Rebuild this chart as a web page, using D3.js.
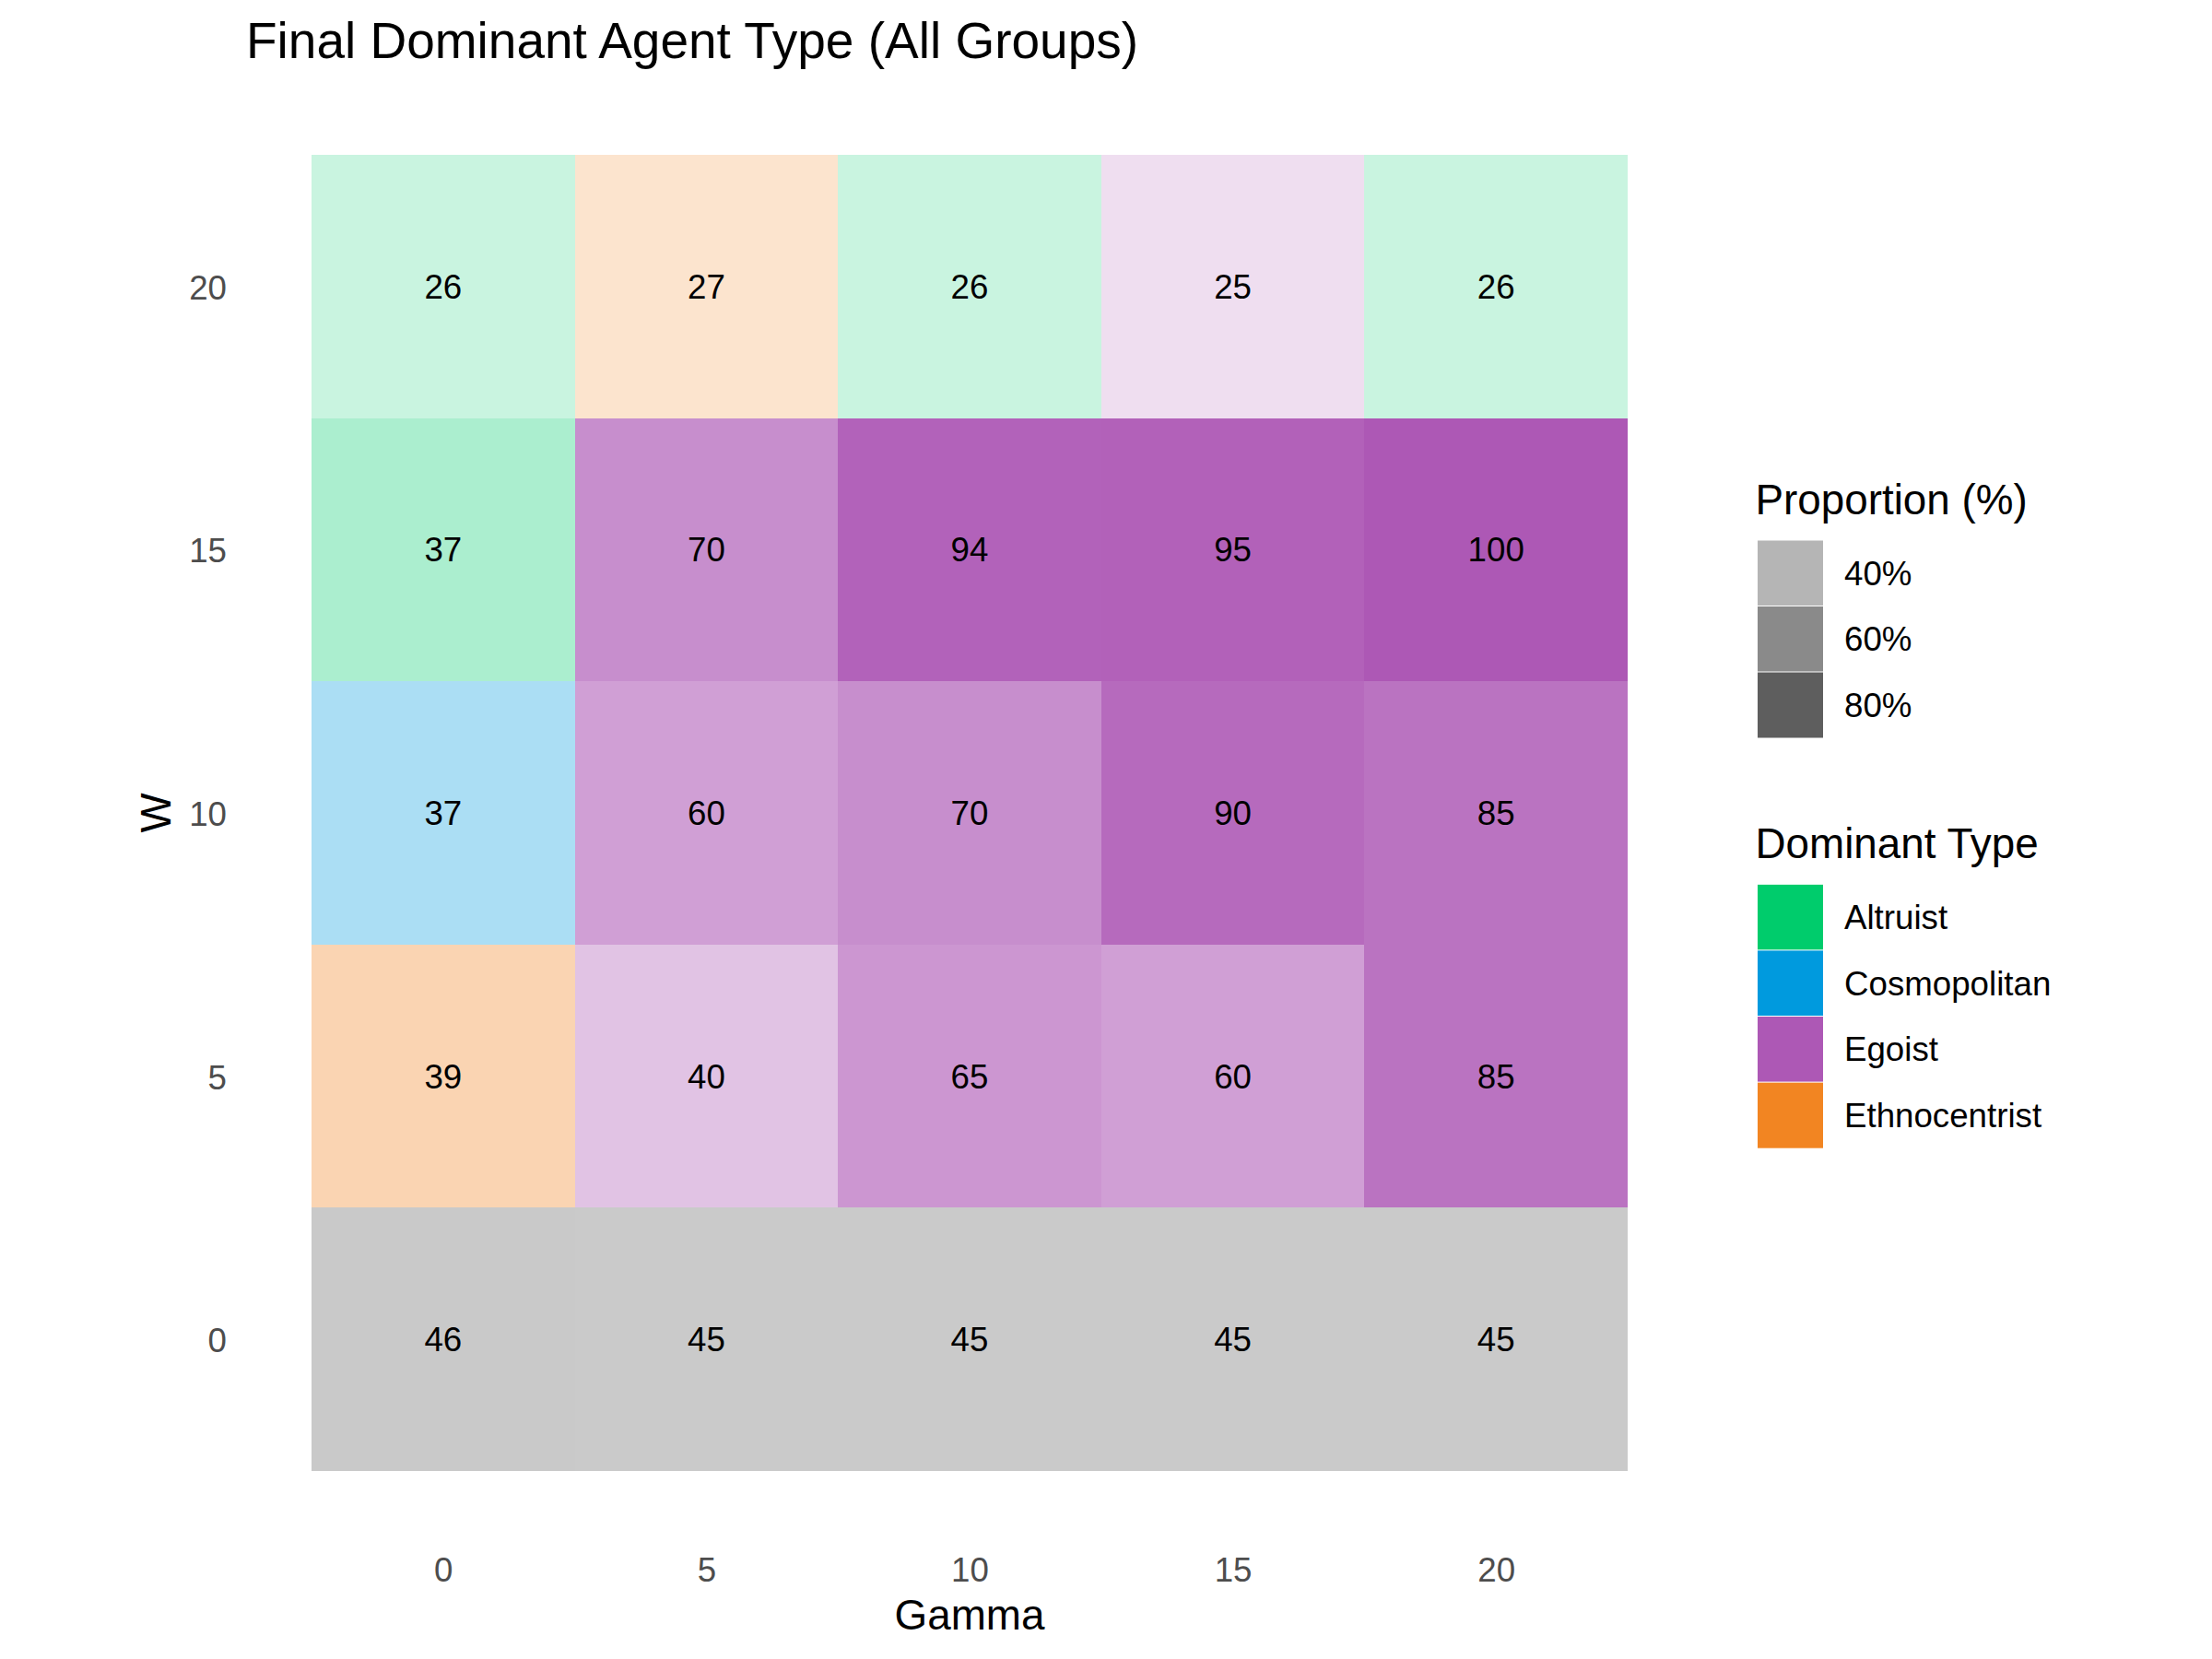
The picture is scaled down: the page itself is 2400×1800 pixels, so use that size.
<!DOCTYPE html>
<html>
<head>
<meta charset="utf-8">
<script src="https://cdn.jsdelivr.net/npm/d3@7"></script>
<style>
  html, body { margin: 0; padding: 0; background: #ffffff; }
  svg { display: block; font-family: "Liberation Sans", Arial, Helvetica, sans-serif; }
</style>
</head>
<body>
<script>
// ---- Data ----
const gammaValues = [0, 5, 10, 15, 20];
const wValues = [0, 5, 10, 15, 20];
const typeNames = ["Altruist", "Cosmopolitan", "Egoist", "Ethnocentrist"];
const typeColors = ["#00CC6C", "#009ADE", "#AD58B5", "#F28522"];
const alphaBreaks = [40, 60, 80];
const alphaBreakLabels = ["40%", "60%", "80%"];

// rows by W (gamma 0,5,10,15,20)
const propW0  = [46, 45, 45, 45, 45];
const typeW0  = [null, null, null, null, null];
const propW5  = [39, 40, 65, 60, 85];
const typeW5  = ["Ethnocentrist", "Egoist", "Egoist", "Egoist", "Egoist"];
const propW10 = [37, 60, 70, 90, 85];
const typeW10 = ["Cosmopolitan", "Egoist", "Egoist", "Egoist", "Egoist"];
const propW15 = [37, 70, 94, 95, 100];
const typeW15 = ["Altruist", "Egoist", "Egoist", "Egoist", "Egoist"];
const propW20 = [26, 27, 26, 25, 26];
const typeW20 = ["Altruist", "Ethnocentrist", "Altruist", "Egoist", "Altruist"];

const propRows = [propW0, propW5, propW10, propW15, propW20];
const typeRows = [typeW0, typeW5, typeW10, typeW15, typeW20];

const cells = [];
wValues.forEach((w, i) => {
  gammaValues.forEach((g, j) => {
    cells.push({ gamma: g, w: w, prop: propRows[i][j], type: typeRows[i][j] });
  });
});

// ---- Layout ----
const W = 2400, H = 1800;
const panel = { left: 266.6, right: 1837.4, top: 96.6, bottom: 1667.4 };

const svg = d3.select("body").append("svg")
  .attr("width", W).attr("height", H);

const x = d3.scaleLinear().domain([-3.75, 23.75]).range([panel.left, panel.right]);
const y = d3.scaleLinear().domain([-3.75, 23.75]).range([panel.bottom, panel.top]);
const fill = d3.scaleOrdinal().domain(typeNames).range(typeColors);
const alpha = d3.scaleLinear().domain([25, 100]).range([0.2, 1]);
const naFill = "#7F7F7F";
const tileSize = 5;

// tiles
svg.append("g").attr("shape-rendering", "crispEdges").selectAll("rect")
  .data(cells).join("rect")
  .attr("x", d => x(d.gamma - tileSize / 2))
  .attr("y", d => y(d.w + tileSize / 2))
  .attr("width", d => x(d.gamma + tileSize / 2) - x(d.gamma - tileSize / 2))
  .attr("height", d => y(d.w - tileSize / 2) - y(d.w + tileSize / 2))
  .attr("fill", d => d.type ? fill(d.type) : naFill)
  .attr("fill-opacity", d => alpha(d.prop));

// cell labels
svg.append("g").selectAll("text")
  .data(cells).join("text")
  .attr("x", d => x(d.gamma))
  .attr("y", d => y(d.w) + 13)
  .attr("text-anchor", "middle")
  .attr("font-size", 36.7)
  .attr("fill", "#000000")
  .text(d => d.prop);

// axes
const xAxis = d3.axisBottom(x).tickValues(gammaValues).tickSize(0).tickPadding(22.6);
const gx = svg.append("g").attr("transform", `translate(0,${panel.bottom})`).call(xAxis);
gx.select(".domain").remove();
gx.selectAll("text").attr("font-size", 36.7).attr("fill", "#4D4D4D")
  .attr("font-family", "Liberation Sans, Arial, sans-serif");

const yAxis = d3.axisLeft(y).tickValues(wValues).tickSize(0).tickPadding(20.6);
const gy = svg.append("g").attr("transform", `translate(${panel.left},0)`).call(yAxis);
gy.select(".domain").remove();
gy.selectAll("text").attr("font-size", 36.7).attr("fill", "#4D4D4D").attr("dy", "0.37em")
  .attr("font-family", "Liberation Sans, Arial, sans-serif");

// axis titles
svg.append("text")
  .attr("x", (x(-2.5) + x(22.5)) / 2).attr("y", 1767.5)
  .attr("text-anchor", "middle").attr("font-size", 45.8).attr("fill", "#000")
  .text("Gamma");

svg.append("text")
  .attr("transform", `translate(185,${(y(-2.5) + y(22.5)) / 2}) rotate(-90)`)
  .attr("text-anchor", "middle").attr("font-size", 45.8).attr("fill", "#000")
  .text("W");

// title
svg.append("text")
  .attr("x", 267).attr("y", 63.3)
  .attr("font-size", 55).attr("fill", "#000")
  .text("Final Dominant Agent Type (All Groups)");

// ---- Legends ----
const legX = 1907, keyW = 71, keyH = 71.5, labelX = 2001;

// Proportion legend
const legA = svg.append("g");
legA.append("text").attr("x", legX - 2.5).attr("y", 557.7)
  .attr("font-size", 45.8).attr("fill", "#000").text("Proportion (%)");
alphaBreaks.forEach((b, i) => {
  const ky = 586 + i * keyH;
  legA.append("rect").attr("x", legX).attr("y", ky)
    .attr("width", keyW).attr("height", keyH)
    .attr("fill", "#333333").attr("fill-opacity", alpha(b));
  legA.append("line").attr("x1", legX).attr("x2", legX + keyW)
    .attr("y1", ky).attr("y2", ky).attr("stroke", "#fff").attr("stroke-width", 1);
  legA.append("text").attr("x", labelX).attr("y", ky + keyH / 2 + 13)
    .attr("font-size", 36.7).attr("fill", "#000").text(alphaBreakLabels[i]);
});

// Dominant type legend
const legT = svg.append("g");
legT.append("text").attr("x", legX - 2.5).attr("y", 931)
  .attr("font-size", 45.8).attr("fill", "#000").text("Dominant Type");
typeNames.forEach((t, i) => {
  const ky = 959.3 + i * 71.6;
  legT.append("rect").attr("x", legX).attr("y", ky)
    .attr("width", keyW).attr("height", 71.6)
    .attr("fill", fill(t));
  legT.append("line").attr("x1", legX).attr("x2", legX + keyW)
    .attr("y1", ky).attr("y2", ky).attr("stroke", "#fff").attr("stroke-width", 1);
  legT.append("text").attr("x", labelX).attr("y", ky + 71.6 / 2 + 13)
    .attr("font-size", 36.7).attr("fill", "#000").text(t);
});
</script>
</body>
</html>
